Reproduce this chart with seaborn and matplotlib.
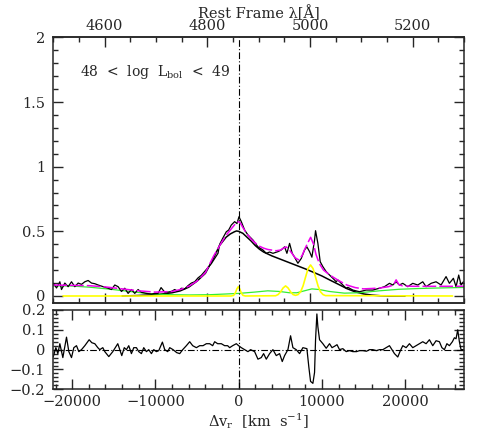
import numpy as np
import pandas as pd
import matplotlib
matplotlib.use("Agg")
import matplotlib.pyplot as plt
from matplotlib.ticker import MultipleLocator, FixedLocator, FuncFormatter
import seaborn as sns

# ---------------- data ----------------
C_KMS = 299792.458
LAMBDA0 = 4861.0
LAMBDA_RANGE = [4500, 5300]

# observed spectrum (velocity km/s, flux)
v_obs = [-22250, -21880, -21480, -21280, -20880, -20480, -20080, -19680, -19280, -18880,
         -18480, -18080, -17680, -17280, -16880, -16280, -15680, -15280, -14880, -14480,
         -14080, -13680, -13280, -12880, -12480, -12080, -11680, -11080, -10480, -10080,
         -9680, -9320, -8880, -8480, -8080, -7680, -7280, -6880, -6480, -6080,
         -5680, -5280, -4880, -4480, -4080, -3680, -3280, -2880, -2480, -2280,
         -1880, -1480, -1200, -880, -480, -200, 40, 320, 720, 1120,
         1720, 2320, 2920, 3320, 3720, 4120, 4720, 5120, 5520, 5800,
         6120, 6440, 6720, 7120, 7520, 7920, 8200, 8520, 8800, 9120,
         9240, 9520, 9800, 10120, 10520, 10920, 11320, 11720, 11920, 12320,
         12520, 12920, 13120, 13720, 14520, 15320, 16120, 16920, 17520, 18120,
         18520, 18920, 19320, 19720, 20320, 20920, 21520, 22120, 22520, 23120,
         23720, 24320, 24920, 25320, 25800, 26120, 26440, 26720, 27000]
f_obs = [0.098, 0.062, 0.110, 0.050, 0.100, 0.072, 0.110, 0.072, 0.100, 0.090,
         0.110, 0.120, 0.100, 0.095, 0.085, 0.072, 0.060, 0.050, 0.085, 0.072,
         0.035, 0.060, 0.020, 0.050, 0.020, 0.050, 0.028, 0.020, 0.015, 0.020,
         0.020, 0.065, 0.030, 0.030, 0.035, 0.050, 0.035, 0.060, 0.055, 0.080,
         0.100, 0.110, 0.140, 0.160, 0.190, 0.220, 0.250, 0.290, 0.330, 0.400,
         0.450, 0.497, 0.510, 0.549, 0.575, 0.560, 0.613, 0.575, 0.510, 0.472,
         0.433, 0.380, 0.356, 0.330, 0.340, 0.330, 0.343, 0.356, 0.380, 0.330,
         0.407, 0.330, 0.300, 0.253, 0.290, 0.356, 0.380, 0.343, 0.300, 0.433,
         0.505, 0.407, 0.265, 0.227, 0.188, 0.162, 0.137, 0.110, 0.124, 0.098,
         0.085, 0.060, 0.067, 0.046, 0.033, 0.046, 0.046, 0.060, 0.072, 0.098,
         0.085, 0.110, 0.085, 0.098, 0.072, 0.098, 0.085, 0.110, 0.072, 0.098,
         0.110, 0.085, 0.150, 0.098, 0.137, 0.072, 0.162, 0.085, 0.110]

# total model (magenta, dashed)
v_tot = [-22280, -20000, -18000, -16000, -14000, -12000, -10000, -8000, -7000, -6000,
         -5000, -4000, -3000, -2000, -1500, -1000, -500, -200, 0, 200,
         500, 1000, 1500, 2000, 2500, 3000, 3500, 4000, 4500, 5000,
         5400, 5700, 6000, 6400, 6800, 7200, 7600, 8000, 8300, 8650,
         9000, 9300, 9700, 10200, 11000, 12000, 13000, 14000, 15000, 16000,
         17000, 18000, 18600, 18920, 19250, 19700, 21000, 23000, 25000, 27075]
f_tot = [0.085, 0.082, 0.080, 0.070, 0.055, 0.040, 0.030, 0.035, 0.050, 0.075,
         0.115, 0.180, 0.310, 0.420, 0.470, 0.510, 0.550, 0.570, 0.575, 0.565,
         0.530, 0.480, 0.440, 0.410, 0.385, 0.370, 0.360, 0.355, 0.350, 0.355,
         0.370, 0.380, 0.365, 0.330, 0.295, 0.280, 0.310, 0.370, 0.410, 0.454,
         0.400, 0.320, 0.250, 0.200, 0.160, 0.120, 0.085, 0.065, 0.055, 0.058,
         0.062, 0.072, 0.085, 0.125, 0.088, 0.078, 0.075, 0.075, 0.075, 0.075]

# broad H-beta component (black smooth)
v_broad = [-14000, -12000, -10000, -8000, -7000, -6000, -5000, -4000, -3000, -2300,
           -1500, -1000, -500, -250, 0, 500, 1000, 1500, 2000, 2500,
           3000, 4000, 5000, 6000, 7000, 8000, 9000, 10000, 11000, 12000,
           13000, 14000, 15000, 16000, 17000, 18000, 20000]
f_broad = [0.000, 0.004, 0.010, 0.025, 0.040, 0.068, 0.115, 0.175, 0.295, 0.390,
           0.455, 0.480, 0.497, 0.503, 0.500, 0.485, 0.455, 0.425, 0.390, 0.362,
           0.340, 0.310, 0.285, 0.260, 0.235, 0.210, 0.183, 0.155, 0.122, 0.090,
           0.057, 0.032, 0.016, 0.007, 0.002, 0.000, 0.000]

# Fe II template (green)
v_fe = [-22280, -20300, -17900, -15500, -13100, -10700, -8300, -5900, -3500, -1700,
        0, 1900, 3500, 4900, 6100, 7000, 7900, 8800, 9700, 10900,
        12700, 14500, 16900, 19300, 21700, 24100, 27075]
f_fe = [0.078, 0.078, 0.068, 0.053, 0.035, 0.018, 0.010, 0.008, 0.010, 0.015,
        0.020, 0.030, 0.040, 0.035, 0.025, 0.025, 0.040, 0.055, 0.050, 0.035,
        0.022, 0.025, 0.040, 0.052, 0.058, 0.062, 0.066]

# narrow lines (yellow)
v_nar = [-21100, -900, -600, -400, -200, -40, 120, 320, 520, 800,
         4440, 4740, 5040, 5340, 5640, 5940, 6240, 6540, 6840, 7140,
         7440, 7740, 8040, 8340, 8640, 8940, 9240, 9540, 9840, 10140,
         10440, 25700]
f_nar = [0.000, 0.000, 0.005, 0.024, 0.056, 0.072, 0.056, 0.024, 0.005, 0.000,
         0.002, 0.011, 0.032, 0.062, 0.078, 0.062, 0.032, 0.011, 0.005, 0.011,
         0.032, 0.078, 0.146, 0.212, 0.240, 0.212, 0.146, 0.078, 0.032, 0.011,
         0.003, 0.000]

# residuals
v_res = [-22280, -21960, -21720, -21480, -21120, -20680, -20400, -20080, -19800, -19480,
         -19200, -18880, -18480, -17960, -17640, -17280, -16920, -16680, -16320, -16080,
         -15600, -15120, -14820, -14520, -14280, -14040, -13740, -13480, -13200, -12880,
         -12600, -12280, -12000, -11680, -11400, -11080, -10800, -10480, -10200, -9880,
         -9600, -9160, -8880, -8520, -8280, -7880, -7440, -7080, -6720, -6280,
         -5880, -5520, -5080, -4680, -4280, -3880, -3480, -3120, -2880, -2520,
         -2080, -1680, -1320, -1080, -720, -280, 0, 320, 720, 1120,
         1440, 1920, 2320, 2720, 3000, 3320, 3720, 4120, 4520, 4920,
         5240, 5520, 5920, 6240, 6520, 6920, 7320, 7720, 8200, 8440,
         8640, 8920, 9120, 9240, 9400, 9520, 9720, 10120, 10520, 10920,
         11220, 11520, 11820, 12120, 12520, 12920, 13320, 13720, 14160, 14520,
         14920, 15360, 15720, 16120, 16560, 16920, 17320, 17720, 18120, 18420,
         18720, 19120, 19380, 19720, 20120, 20520, 20920, 21320, 21720, 22120,
         22520, 22920, 23320, 23720, 24120, 24420, 24720, 25020, 25320, 25680,
         25920, 26120, 26320, 26520, 26720, 27000]
f_res = [-0.037, 0.010, -0.020, 0.030, -0.040, 0.063, -0.010, -0.040, 0.010, 0.020,
         -0.010, 0.000, 0.020, 0.050, 0.035, 0.030, 0.010, 0.000, 0.010, -0.010,
         -0.035, -0.010, 0.010, 0.030, 0.000, -0.030, 0.010, 0.000, 0.020, -0.020,
         0.010, 0.010, -0.010, -0.020, 0.010, -0.010, 0.000, -0.020, 0.000, -0.010,
         -0.005, 0.038, 0.000, -0.010, 0.010, 0.000, -0.015, -0.020, 0.000, 0.020,
         0.040, 0.020, 0.010, 0.020, 0.020, 0.030, 0.030, 0.020, 0.040, 0.030,
         0.030, 0.020, 0.020, 0.010, 0.020, 0.030, 0.020, 0.010, 0.000, -0.010,
         0.000, -0.010, -0.048, -0.040, -0.020, -0.048, -0.020, 0.000, -0.030, -0.020,
         -0.060, -0.030, 0.000, 0.070, 0.010, 0.000, -0.020, 0.010, 0.005, -0.090,
         -0.160, -0.170, -0.115, 0.050, 0.180, 0.115, 0.050, 0.030, 0.007, 0.030,
         0.010, 0.017, 0.025, 0.000, 0.005, -0.010, -0.005, -0.010, -0.010, -0.005,
         -0.005, -0.008, 0.000, 0.000, -0.005, 0.000, 0.000, 0.010, 0.020, 0.000,
         -0.020, -0.037, -0.010, 0.020, 0.010, 0.030, 0.010, 0.020, 0.030, 0.040,
         0.030, 0.050, 0.020, 0.045, 0.040, 0.010, 0.000, 0.030, 0.020, 0.040,
         0.060, 0.055, 0.100, 0.040, 0.000, 0.000]

upper_yticks = [0, 0.5, 1, 1.5, 2]
lower_yticks = [-0.2, -0.1, 0, 0.1, 0.2]
lambda_ticks = [4600, 4800, 5000, 5200]
vel_ticks = [-20000, -10000, 0, 10000, 20000]
label_text = "48  <  log  L$_\\mathregular{bol}$  <  49"

# ---------------- style ----------------
sns.set_style("ticks")
plt.rcParams["font.family"] = ["DejaVu Serif"]
plt.rcParams["mathtext.fontset"] = "dejavuserif"
plt.rcParams["font.size"] = 10.5
plt.rcParams["axes.linewidth"] = 1.1

def v2l(v):
    return LAMBDA0 * (1.0 + np.asarray(v) / C_KMS)

def l2v(l):
    return (np.asarray(l) / LAMBDA0 - 1.0) * C_KMS

vmin, vmax = l2v(LAMBDA_RANGE[0]), l2v(LAMBDA_RANGE[1])

fig = plt.figure(figsize=(4.91, 4.36), dpi=100)
ax1 = fig.add_axes([0.1086, 0.3057, 0.8364, 0.6085])
ax2 = fig.add_axes([0.1086, 0.1071, 0.8364, 0.1819])

def fmt(x, pos):
    s = f"{x:g}"
    return s.replace("-", "\u2212")

LW = 0.9
# upper panel
sns.lineplot(x=v_broad, y=f_broad, ax=ax1, color="black", lw=1.1, estimator=None, sort=False)
sns.lineplot(x=v_fe, y=f_fe, ax=ax1, color="#33ee33", lw=LW, estimator=None, sort=False)
sns.lineplot(x=v_nar, y=f_nar, ax=ax1, color="#ffff00", lw=1.2, estimator=None, sort=False)
sns.lineplot(x=v_obs, y=f_obs, ax=ax1, color="black", lw=LW, estimator=None, sort=False)
sns.lineplot(x=v_tot, y=f_tot, ax=ax1, color="#ee00ee", lw=1.1, estimator=None, sort=False,
             linestyle=(0, (9, 2)))
ax1.axvline(0, color="black", lw=0.8, linestyle=(0, (6, 2, 1, 2)))

ax1.set_xlim(vmin, vmax)
ax1.set_ylim(-0.052, 2)
ax1.tick_params(axis="x", which="both", bottom=False, top=False, labelbottom=False)
ax1.yaxis.set_major_locator(FixedLocator(upper_yticks))
ax1.yaxis.set_minor_locator(MultipleLocator(0.1))
ax1.yaxis.set_major_formatter(FuncFormatter(fmt))
ax1.tick_params(axis="y", which="major", direction="in", length=7, width=1, left=True, right=True, pad=6)
ax1.tick_params(axis="y", which="minor", direction="in", length=3.5, width=1, left=True, right=True)
ax1.set_xlabel("")
ax1.set_ylabel("")
ax1.text(0.065, 0.87, label_text, transform=ax1.transAxes, fontsize=10, va="center", ha="left")

for loc in ["top", "bottom"]:
    sec = ax1.secondary_xaxis(loc, functions=(v2l, l2v))
    sec.xaxis.set_major_locator(FixedLocator(lambda_ticks))
    sec.xaxis.set_minor_locator(MultipleLocator(50))
    sec.tick_params(which="major", direction="in", length=7, width=1, pad=3)
    sec.tick_params(which="minor", direction="in", length=3.5, width=1)
    if loc == "top":
        sec.set_xlabel("Rest Frame λ[Å]", labelpad=1, fontsize=10.5)
    else:
        sec.tick_params(labelbottom=False)

# lower panel
sns.lineplot(x=v_res, y=f_res, ax=ax2, color="black", lw=LW, estimator=None, sort=False)
ax2.axvline(0, color="black", lw=0.8, linestyle=(0, (6, 2, 1, 2)))
ax2.axhline(0, color="black", lw=0.8, linestyle=(0, (6, 2, 1, 2)))
ax2.set_xlim(vmin, vmax)
ax2.set_ylim(-0.2, 0.2)
ax2.xaxis.set_major_locator(FixedLocator(vel_ticks))
ax2.xaxis.set_minor_locator(MultipleLocator(2000))
ax2.xaxis.set_major_formatter(FuncFormatter(fmt))
ax2.yaxis.set_major_locator(FixedLocator(lower_yticks))
ax2.yaxis.set_minor_locator(MultipleLocator(0.02))
ax2.yaxis.set_major_formatter(FuncFormatter(fmt))
ax2.tick_params(axis="both", which="major", direction="in", length=7, width=1,
                left=True, right=True, top=True, bottom=True)
ax2.tick_params(axis="both", which="minor", direction="in", length=3.5, width=1,
                left=True, right=True, top=True, bottom=True)
ax2.tick_params(axis="y", which="major", pad=6)
ax2.tick_params(axis="x", which="major", pad=4)
ax2.set_xlabel("Δv$_\\mathregular{r}$  [km  s$^{-1}$]", labelpad=2)
ax2.set_ylabel("")

fig.savefig("out.png", dpi=100)
